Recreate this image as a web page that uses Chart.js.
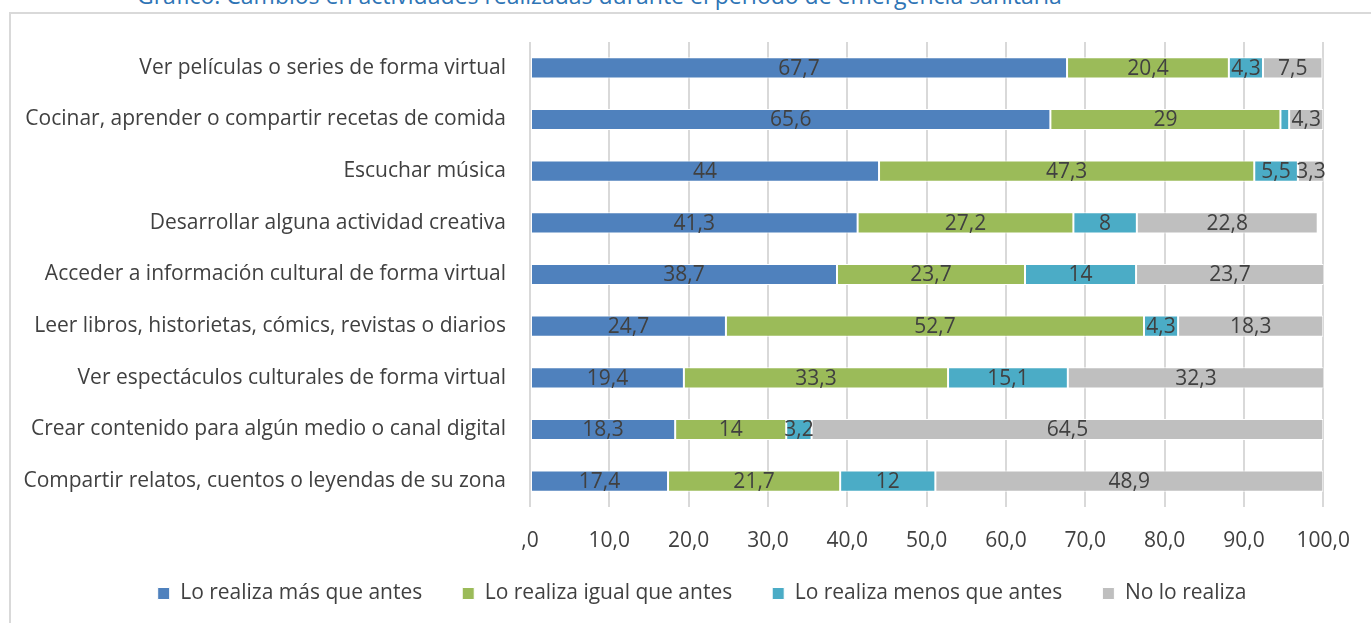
<!DOCTYPE html>
<html>
<head>
<meta charset="utf-8">
<script src="https://cdn.jsdelivr.net/npm/chart.js@4"></script>
<style>
  html, body { margin: 0; padding: 0; background: #fff; overflow: hidden; }
  #wrap { position: relative; width: 1371px; height: 623px; }
  #frame { position: absolute; left: 9px; top: 12px; width: 1400px; height: 700px;
           border-left: 2px solid #d9d9d9; border-top: 2px solid #d9d9d9; }
  #title { position: absolute; left: 137px; top: -21px; font-family: "Open Sans", sans-serif;
           font-size: 23px; color: #2e74b5; white-space: nowrap; }
  canvas { position: absolute; left: 0; top: 0; }
</style>
</head>
<body>
<div id="wrap">
  <div id="frame"></div>
  <div id="title">Gráfico: Cambios en actividades realizadas durante el período de emergencia sanitaria</div>
  <canvas id="myChart" width="1371" height="623"></canvas>
</div>
<script>
var categories = [
  "Ver películas o series de forma virtual",
  "Cocinar, aprender o compartir recetas de comida",
  "Escuchar música",
  "Desarrollar alguna actividad creativa",
  "Acceder a información cultural de forma virtual",
  "Leer libros, historietas, cómics, revistas o diarios",
  "Ver espectáculos culturales de forma virtual",
  "Crear contenido para algún medio o canal digital",
  "Compartir relatos, cuentos o leyendas de su zona"
];
var masQueAntes = [67.7, 65.6, 44, 41.3, 38.7, 24.7, 19.4, 18.3, 17.4];
var igualQueAntes = [20.4, 29, 47.3, 27.2, 23.7, 52.7, 33.3, 14, 21.7];
var menosQueAntes = [4.3, 1.1, 5.5, 8, 14, 4.3, 15.1, 3.2, 12];
var noLoRealiza = [7.5, 4.3, 3.3, 22.8, 23.7, 18.3, 32.3, 64.5, 48.9];
var tickLabels = [",0", "10,0", "20,0", "30,0", "40,0", "50,0", "60,0", "70,0", "80,0", "90,0", "100,0"];

var fontFamily = "'Open Sans', sans-serif";
var textColor = "#404040";

// draws the value in the middle of each segment
var segmentLabels = {
  id: "segmentLabels",
  afterDatasetsDraw: function (chart) {
    var ctx = chart.ctx;
    ctx.save();
    ctx.font = "21px " + fontFamily;
    ctx.fillStyle = textColor;
    ctx.textAlign = "center";
    ctx.textBaseline = "middle";
    chart.data.datasets.forEach(function (ds, i) {
      var meta = chart.getDatasetMeta(i);
      meta.data.forEach(function (bar, j) {
        var v = ds.data[j];
        if (v < 2) return;
        var p = bar.getCenterPoint();
        ctx.fillText(String(v).replace(".", ","), p.x, p.y + 1);
      });
    });
    ctx.restore();
  }
};

// nudge the legend box to where the original sits
var moveLegend = {
  id: "moveLegend",
  afterLayout: function (chart) {
    var lg = chart.legend;
    lg.left += 39;
    lg.right += 39;
    lg.top -= 9;
    lg.bottom -= 9;
  }
};

var ctx = document.getElementById("myChart").getContext("2d");
var myChart = new Chart(ctx, {
  type: "bar",
  data: {
    labels: categories,
    datasets: [
      { label: "Lo realiza más que antes", data: masQueAntes, backgroundColor: "#4f81bd" },
      { label: "Lo realiza igual que antes", data: igualQueAntes, backgroundColor: "#9bbb59" },
      { label: "Lo realiza menos que antes", data: menosQueAntes, backgroundColor: "#4bacc6" },
      { label: "No lo realiza", data: noLoRealiza, backgroundColor: "#bfbfbf" }
    ].map(function (d) {
      d.borderColor = "#ffffff";
      d.borderWidth = 1;
      d.borderSkipped = false;
      d.barPercentage = 0.41;
      d.categoryPercentage = 1;
      return d;
    })
  },
  options: {
    indexAxis: "y",
    responsive: false,
    animation: false,
    layout: { padding: { top: 42, right: 45, bottom: 0, left: 0 } },
    scales: {
      x: {
        stacked: true,
        min: 0,
        max: 100,
        border: { display: false },
        grid: { color: "#d9d9d9", lineWidth: 2, drawTicks: false },
        afterFit: function (scale) { scale.height = 45; },
        ticks: {
          stepSize: 10,
          padding: 21,
          color: textColor,
          font: { family: fontFamily, size: 21 },
          callback: function (value, index) { return tickLabels[index]; }
        }
      },
      y: {
        stacked: true,
        border: { display: false },
        grid: { display: false, drawTicks: false },
        afterFit: function (scale) { scale.width = 530; },
        ticks: {
          padding: 24,
          color: textColor,
          font: { family: fontFamily, size: 21 }
        }
      }
    },
    plugins: {
      legend: {
        position: "bottom",
        labels: {
          boxWidth: 12,
          boxHeight: 12,
          padding: 40,
          color: textColor,
          font: { family: fontFamily, size: 21 }
        }
      },
      tooltip: { enabled: false }
    }
  },
  plugins: [segmentLabels, moveLegend]
});
</script>
</body>
</html>
